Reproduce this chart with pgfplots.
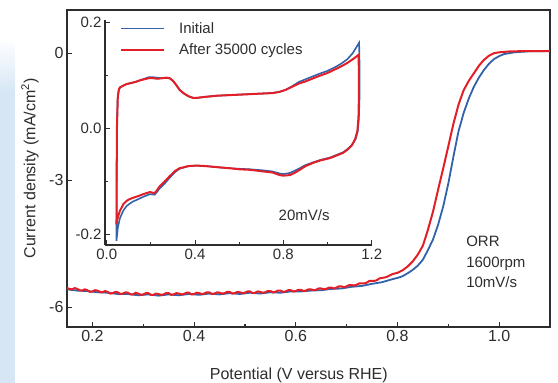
\documentclass[border=0pt]{standalone}
\usepackage{pgfplots}
\pgfplotsset{compat=1.18}
\usepackage{fontspec}
\setmainfont{Liberation Sans}

\definecolor{cvblue}{RGB}{50,98,170}
\definecolor{cvred}{RGB}{226,30,38}
\definecolor{framegray}{RGB}{45,45,45}
\definecolor{slideblue}{RGB}{214,230,245}

\begin{document}
\begin{tikzpicture}[x=1pt,y=1pt]
\useasboundingbox (0,0) rectangle (558,383);
% light slide strip on the left edge
\shade[top color=white, bottom color=slideblue] (0,290) rectangle (15,345);
\fill[slideblue] (0,0) rectangle (15,290);

% ---------------- main ORR polarisation curves ----------------
\begin{axis}[
  at={(67pt,56pt)}, anchor=south west,
  width=483pt, height=317pt, scale only axis,
  xmin=0.15, xmax=1.1, ymin=-6.47, ymax=1.02,
  xtick={0.2,0.4,0.6,0.8,1.0}, minor xtick={0.3,0.5,0.7,0.9},
  ytick={0,-3,-6},
  tick align=inside, xtick pos=left, ytick pos=left,
  major tick length=5pt, minor tick length=3pt,
  axis line style={framegray, line width=1.3pt},
  every tick/.style={framegray, line width=1.2pt},
  tick label style={font=\fontsize{16}{18}\selectfont, text=framegray},
  /pgf/number format/assume math mode=true,
  xticklabel style={/pgf/number format/.cd, fixed, fixed zerofill, precision=1},
  yticklabel style={/pgf/number format/.cd, fixed, precision=0},
  xlabel={Potential (V versus RHE)},
  ylabel={Current density (mA/cm\textsuperscript{2})},
  label style={font=\fontsize{16}{18}\selectfont, text=framegray},
  xlabel style={at={(axis description cs:0.48,-0.151)}, anchor=center},
  ylabel style={at={(axis description cs:-0.0766,0.5)}, anchor=center},
]
% initial
\addplot[cvblue, line width=1.8pt] table {
0.15 -5.58
0.17 -5.61
0.19 -5.62
0.21 -5.65
0.23 -5.66
0.25 -5.69
0.27 -5.69
0.29 -5.72
0.31 -5.70
0.33 -5.73
0.35 -5.70
0.37 -5.72
0.39 -5.69
0.41 -5.71
0.43 -5.68
0.45 -5.70
0.47 -5.67
0.49 -5.69
0.51 -5.66
0.53 -5.68
0.55 -5.65
0.57 -5.66
0.59 -5.63
0.61 -5.63
0.63 -5.61
0.65 -5.60
0.67 -5.57
0.69 -5.56
0.71 -5.52
0.73 -5.50
0.75 -5.45
0.77 -5.41
0.79 -5.34
0.80 -5.31
0.81 -5.27
0.82 -5.20
0.83 -5.12
0.84 -5.02
0.85 -4.88
0.86 -4.65
0.87 -4.40
0.88 -4.05
0.89 -3.62
0.90 -3.08
0.91 -2.45
0.92 -1.85
0.93 -1.42
0.94 -1.08
0.95 -0.80
0.96 -0.58
0.97 -0.40
0.98 -0.25
0.99 -0.14
1.00 -0.07
1.01 -0.02
1.03 0.02
1.06 0.045
1.10 0.05
};
% after 35000 cycles
\addplot[cvred, line width=2pt] table {
0.150 -5.55
0.155 -5.57
0.160 -5.58
0.165 -5.55
0.170 -5.57
0.175 -5.60
0.180 -5.61
0.185 -5.58
0.190 -5.60
0.195 -5.64
0.200 -5.63
0.205 -5.60
0.210 -5.61
0.215 -5.64
0.220 -5.65
0.225 -5.62
0.230 -5.64
0.235 -5.68
0.240 -5.67
0.245 -5.64
0.250 -5.65
0.255 -5.69
0.260 -5.68
0.265 -5.65
0.270 -5.66
0.275 -5.70
0.280 -5.70
0.285 -5.66
0.290 -5.68
0.295 -5.71
0.300 -5.70
0.305 -5.67
0.310 -5.67
0.315 -5.71
0.320 -5.71
0.325 -5.68
0.330 -5.69
0.335 -5.71
0.340 -5.70
0.345 -5.67
0.350 -5.67
0.355 -5.71
0.360 -5.70
0.365 -5.67
0.370 -5.68
0.375 -5.70
0.380 -5.69
0.385 -5.66
0.390 -5.66
0.395 -5.70
0.400 -5.69
0.405 -5.66
0.410 -5.67
0.415 -5.69
0.420 -5.68
0.425 -5.65
0.430 -5.65
0.435 -5.69
0.440 -5.68
0.445 -5.65
0.450 -5.66
0.455 -5.68
0.460 -5.67
0.465 -5.64
0.470 -5.64
0.475 -5.68
0.480 -5.67
0.485 -5.64
0.490 -5.65
0.495 -5.67
0.500 -5.66
0.505 -5.63
0.510 -5.63
0.515 -5.67
0.520 -5.66
0.525 -5.63
0.530 -5.64
0.535 -5.66
0.540 -5.65
0.545 -5.62
0.550 -5.62
0.555 -5.65
0.560 -5.64
0.565 -5.61
0.570 -5.61
0.575 -5.64
0.580 -5.63
0.585 -5.60
0.590 -5.60
0.595 -5.63
0.600 -5.62
0.605 -5.59
0.610 -5.59
0.615 -5.62
0.620 -5.61
0.625 -5.58
0.630 -5.58
0.635 -5.60
0.640 -5.59
0.645 -5.56
0.650 -5.56
0.655 -5.58
0.660 -5.57
0.665 -5.54
0.670 -5.54
0.675 -5.56
0.680 -5.54
0.685 -5.51
0.690 -5.51
0.695 -5.53
0.700 -5.51
0.705 -5.48
0.710 -5.48
0.715 -5.49
0.720 -5.47
0.725 -5.44
0.730 -5.44
0.735 -5.44
0.740 -5.42
0.745 -5.38
0.750 -5.38
0.755 -5.38
0.760 -5.36
0.765 -5.32
0.770 -5.31
0.775 -5.30
0.780 -5.28
0.790 -5.22
0.800 -5.19
0.810 -5.13
0.820 -5.04
0.830 -4.92
0.840 -4.76
0.850 -4.55
0.860 -4.17
0.870 -3.74
0.880 -3.22
0.890 -2.72
0.900 -2.20
0.910 -1.67
0.920 -1.22
0.930 -0.88
0.940 -0.66
0.950 -0.48
0.960 -0.30
0.970 -0.16
0.980 -0.06
0.990 0.00
1.000 0.02
1.020 0.04
1.050 0.05
1.100 0.05
};
\node[anchor=west, align=left, font=\fontsize{15}{20.5}\selectfont, text=framegray, inner sep=0pt]
  at (axis cs:0.935,-4.94) {ORR\\1600rpm\\10mV/s};
\end{axis}

% ---------------- inset: cyclic voltammograms ----------------
\begin{axis}[
  at={(105pt,138pt)}, anchor=south west,
  width=266.7pt, height=225pt, scale only axis,
  xmin=-0.008, xmax=1.2, ymin=-0.22, ymax=0.205,
  axis x line*=bottom, axis y line*=left,
  xtick={0,0.4,0.8,1.2}, minor xtick={0.2,0.6,1.0},
  ytick={-0.2,0,0.2}, minor ytick={-0.1,0.1},
  tick align=inside,
  major tick length=5pt, minor tick length=3pt,
  axis line style={framegray, line width=1.1pt},
  every tick/.style={framegray, line width=1.1pt},
  tick label style={font=\fontsize{15}{17}\selectfont, text=framegray},
  /pgf/number format/assume math mode=true,
  xticklabel style={/pgf/number format/.cd, fixed, fixed zerofill, precision=1},
  yticklabel style={/pgf/number format/.cd, fixed, fixed zerofill, precision=1},
  legend style={at={(axis description cs:0.056,1.0)}, anchor=north west,
    draw=none, fill=none, font=\fontsize{15}{17}\selectfont, text=framegray,
    row sep=5pt, inner sep=0pt,
    /tikz/every odd column/.append style={column sep=12pt}},
  legend cell align=left,
  legend image code/.code={\draw[#1] (0pt,0pt) -- (43pt,0pt);},
]
\addplot[cvblue, line width=1.6pt] coordinates {
(0.044,-0.212) (0.045,-0.10) (0.046,0.0) (0.049,0.055) (0.054,0.072)
(0.06,0.077) (0.07,0.080) (0.09,0.084) (0.11,0.086) (0.13,0.088)
(0.15,0.091) (0.17,0.094) (0.19,0.097) (0.21,0.097) (0.23,0.096)
(0.25,0.095) (0.27,0.096) (0.285,0.095) (0.30,0.090) (0.315,0.082)
(0.33,0.073) (0.35,0.066) (0.37,0.061) (0.39,0.058) (0.41,0.058)
(0.45,0.060) (0.50,0.062) (0.55,0.063) (0.60,0.064) (0.65,0.065)
(0.70,0.066) (0.75,0.067) (0.78,0.069) (0.81,0.073) (0.84,0.080)
(0.87,0.088) (0.90,0.093) (0.93,0.098) (0.96,0.103) (1.00,0.109)
(1.03,0.115) (1.06,0.122) (1.09,0.131) (1.115,0.143) (1.143,0.162)
(1.145,0.12) (1.145,0.06) (1.142,0.02) (1.137,-0.005) (1.127,-0.020)
(1.11,-0.031) (1.09,-0.039) (1.07,-0.045) (1.04,-0.050) (1.01,-0.055)
(0.97,-0.059) (0.934,-0.064) (0.90,-0.069) (0.874,-0.075) (0.85,-0.080)
(0.829,-0.084) (0.80,-0.086) (0.784,-0.085) (0.75,-0.081) (0.707,-0.079)
(0.65,-0.077) (0.60,-0.076) (0.557,-0.075) (0.50,-0.073) (0.45,-0.071)
(0.406,-0.070) (0.37,-0.071) (0.33,-0.076) (0.31,-0.082) (0.285,-0.093)
(0.26,-0.105) (0.24,-0.113) (0.225,-0.121) (0.217,-0.125) (0.195,-0.124)
(0.165,-0.129) (0.14,-0.134) (0.118,-0.138) (0.10,-0.143) (0.089,-0.147)
(0.075,-0.155) (0.059,-0.170) (0.05,-0.188) (0.044,-0.212)
};
\addlegendentry{Initial}
\addplot[cvred, line width=2pt] coordinates {
(0.044,-0.181) (0.045,-0.08) (0.046,0.0) (0.050,0.060) (0.055,0.074)
(0.06,0.078) (0.07,0.080) (0.09,0.084) (0.11,0.086) (0.13,0.088)
(0.15,0.091) (0.17,0.093) (0.19,0.095) (0.21,0.095) (0.23,0.094)
(0.25,0.095) (0.27,0.096) (0.285,0.095) (0.30,0.090) (0.315,0.082)
(0.33,0.073) (0.35,0.066) (0.37,0.061) (0.39,0.058) (0.41,0.058)
(0.45,0.060) (0.50,0.062) (0.55,0.063) (0.60,0.064) (0.65,0.065)
(0.70,0.066) (0.75,0.067) (0.78,0.069) (0.81,0.073) (0.84,0.079)
(0.87,0.085) (0.90,0.089) (0.93,0.094) (0.96,0.099) (1.00,0.105)
(1.03,0.111) (1.06,0.117) (1.09,0.124) (1.115,0.131) (1.14,0.139)
(1.142,0.110) (1.142,0.06) (1.14,0.02) (1.135,-0.005) (1.125,-0.020)
(1.11,-0.032) (1.09,-0.040) (1.07,-0.046) (1.04,-0.051) (1.01,-0.056)
(0.97,-0.060) (0.934,-0.065) (0.90,-0.071) (0.874,-0.078) (0.85,-0.084)
(0.829,-0.088) (0.80,-0.089) (0.784,-0.088) (0.75,-0.083) (0.707,-0.081)
(0.65,-0.078) (0.60,-0.077) (0.557,-0.075) (0.50,-0.073) (0.45,-0.071)
(0.406,-0.070) (0.37,-0.071) (0.33,-0.075) (0.31,-0.080) (0.285,-0.090)
(0.26,-0.101) (0.24,-0.109) (0.225,-0.118) (0.217,-0.122) (0.195,-0.120)
(0.165,-0.124) (0.14,-0.128) (0.118,-0.131) (0.10,-0.134) (0.089,-0.137)
(0.075,-0.143) (0.059,-0.156) (0.05,-0.168) (0.044,-0.181)
};
\addlegendentry{After 35000 cycles}
\node[font=\fontsize{15}{17}\selectfont, text=framegray] at (axis cs:0.894,-0.164) {20mV/s};
\end{axis}
\end{tikzpicture}
\end{document}
